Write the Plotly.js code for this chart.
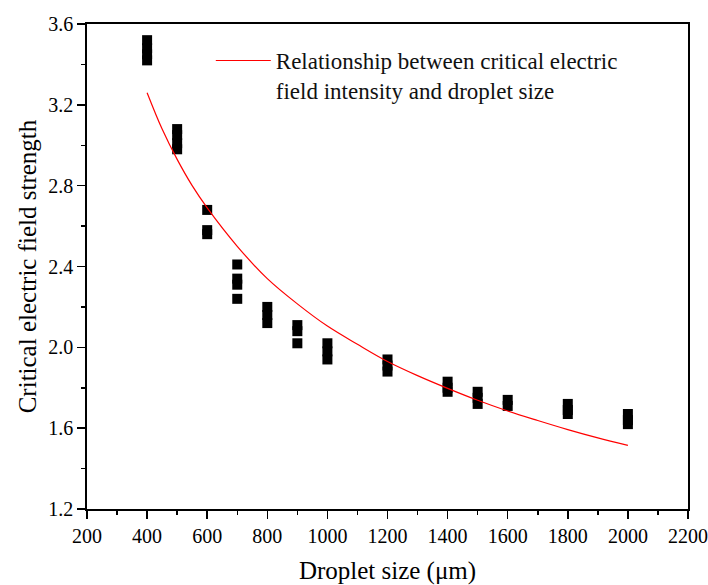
<!DOCTYPE html>
<html>
<head>
<meta charset="utf-8">
<script src="https://cdn.plot.ly/plotly-3.0.1.min.js"></script>
<style>html,body{margin:0;padding:0;background:#fff;}#chart{width:708px;height:585px;}</style>
</head>
<body>
<div id="chart"></div>
<script>
// Measured data points (droplet size in µm, critical field strength)
const sizeX = [400,400,400,400, 500,500,500,500, 600,600,600, 700,700,700,700,
               800,800,800, 900,900,900, 1000,1000,1000, 1200,1200,1200,
               1400,1400,1400, 1500,1500,1500, 1600,1600, 1800,1800,1800, 2000,2000,2000];
const fieldY = [3.52,3.48,3.45,3.42, 3.08,3.05,3.01,2.98, 2.68,2.58,2.56, 2.41,2.34,2.31,2.24,
                2.20,2.16,2.12, 2.11,2.08,2.02, 2.02,1.98,1.94, 1.94,1.91,1.88,
                1.83,1.80,1.78, 1.78,1.75,1.72, 1.74,1.71, 1.72,1.69,1.67, 1.67,1.64,1.62];
// Fitted curve
const curveX = [400,450,500,550,600,700,800,900,1000,1100,1200,1300,1400,1500,1600,1700,1800,1900,2000];
const curveY = [3.26,3.08,2.93,2.80,2.69,2.50,2.34,2.215,2.105,2.015,1.93,1.86,1.797,1.738,1.685,1.638,1.593,1.552,1.515];
const xTicks = [200,400,600,800,1000,1200,1400,1600,1800,2000,2200];
const yTicks = [1.2,1.6,2.0,2.4,2.8,3.2,3.6];
const yTickText = ['1.2','1.6','2.0','2.4','2.8','3.2','3.6'];

const font = "Times New Roman, Liberation Serif, DejaVu Serif, serif";

const traces = [
  {
    x: sizeX, y: fieldY, type: 'scatter', mode: 'markers', showlegend: false,
    marker: {symbol: 'square', size: 10, color: '#000'}
  },
  {
    x: curveX, y: curveY, type: 'scatter', mode: 'lines',
    name: 'Relationship between critical electric<br>field intensity and droplet size',
    line: {color: '#ff0000', width: 1.2, shape: 'spline', smoothing: 1}
  }
];

const axisCommon = {
  showline: true, linecolor: '#000', linewidth: 1.8, mirror: true,
  ticks: 'outside', ticklen: 8, tickwidth: 1.5, tickcolor: '#000',
  showgrid: false, zeroline: false,
  tickfont: {family: font, size: 20, color: '#000'}
};

const layout = {
  width: 708, height: 585,
  margin: {l: 87, r: 20, t: 24, b: 76},
  paper_bgcolor: '#fff', plot_bgcolor: '#fff',
  font: {family: font, color: '#000'},
  xaxis: Object.assign({}, axisCommon, {
    range: [200, 2200], tickvals: xTicks, ticktext: xTicks.map(String),
    minor: {dtick: 100, ticks: 'outside', ticklen: 4, tickwidth: 1.5, tickcolor: '#000', showgrid: false},
    title: {text: 'Droplet size (μm)', font: {family: font, size: 25, color: '#000'}, standoff: 16}
  }),
  yaxis: Object.assign({}, axisCommon, {
    range: [1.2, 3.6], tickvals: yTicks, ticktext: yTickText,
    minor: {dtick: 0.2, ticks: 'outside', ticklen: 4, tickwidth: 1.5, tickcolor: '#000', showgrid: false},
    title: {text: 'Critical electric field strength', font: {family: font, size: 25, color: '#000'}, standoff: 4}
  }),
  legend: {
    x: 0.206, y: 0.969, xanchor: 'left', yanchor: 'top', valign: 'top',
    itemwidth: 55,
    bgcolor: 'rgba(0,0,0,0)', borderwidth: 0,
    font: {family: font, size: 23, color: '#111'}
  },
  showlegend: true
};

Plotly.newPlot('chart', traces, layout, {displayModeBar: false, staticPlot: true});
</script>
</body>
</html>
